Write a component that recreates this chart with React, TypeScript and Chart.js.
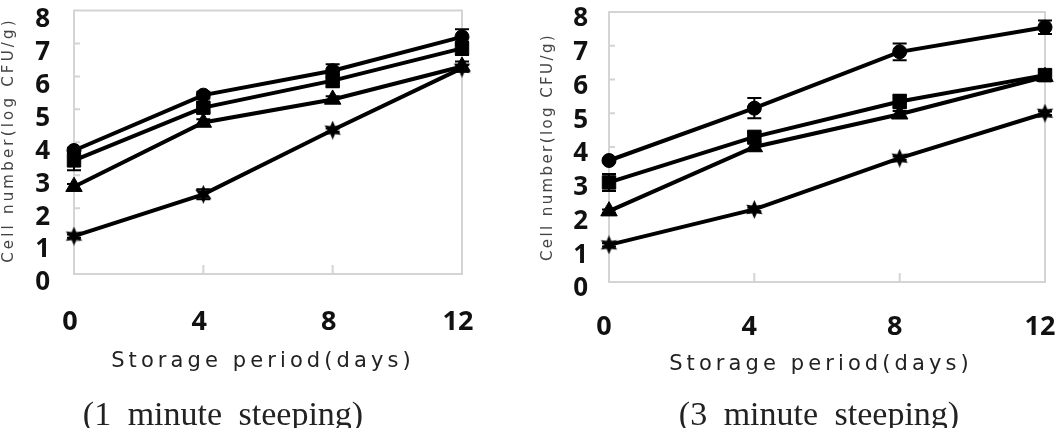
import { useEffect, useRef } from "react";
import { Chart, registerables } from "chart.js";

Chart.register(...registerables);

// Storage days on the x axis
const days = [0, 4, 8, 12];
const yTickValues = [0, 1, 2, 3, 4, 5, 6, 7, 8];

// 1 minute steeping: log CFU/g and standard deviations
const oneMinCircle = [3.75, 5.43, 6.17, 7.2];
const oneMinCircleErr = [0.08, 0.1, 0.2, 0.23];
const oneMinSquare = [3.45, 5.05, 5.87, 6.85];
const oneMinSquareErr = [0.3, 0.15, 0.2, 0.2];
const oneMinTriangle = [2.65, 4.6, 5.3, 6.3];
const oneMinTriangleErr = [0.08, 0.1, 0.1, 0.15];
const oneMinStar = [1.15, 2.42, 4.37, 6.25];
const oneMinStarErr = [0.05, 0.15, 0.05, 0.1];

// 3 minute steeping
const threeMinCircle = [3.6, 5.15, 6.82, 7.55];
const threeMinCircleErr = [0.05, 0.3, 0.25, 0.2];
const threeMinSquare = [2.95, 4.3, 5.35, 6.13];
const threeMinSquareErr = [0.25, 0.15, 0.2, 0.15];
const threeMinTriangle = [2.1, 4.0, 4.97, 6.08];
const threeMinTriangleErr = [0.05, 0.1, 0.1, 0.1];
const threeMinStar = [1.1, 2.15, 3.67, 5.0];
const threeMinStarErr = [0.05, 0.05, 0.05, 0.05];

const xTitle = "Storage period(days)";
const yTitle = "Cell number(log CFU/g)";
const captionOne = "(1 minute steeping)";
const captionThree = "(3 minute steeping)";

const H = 428;

function makeStar(size: number): HTMLCanvasElement {
  const c = document.createElement("canvas");
  c.width = size;
  c.height = size;
  const ctx = c.getContext("2d")!;
  const cx = size / 2;
  const cy = size / 2;
  const R = size / 2;
  const r = R * 0.5;
  ctx.beginPath();
  for (let i = 0; i < 12; i++) {
    const a = -Math.PI / 2 + (i * Math.PI) / 6;
    const rad = i % 2 === 0 ? R : r;
    ctx.lineTo(cx + rad * Math.cos(a), cy + rad * Math.sin(a));
  }
  ctx.closePath();
  ctx.fillStyle = "#000";
  ctx.fill();
  return c;
}

type PanelCfg = {
  offset: number;
  width: number;
  left: number;
  right: number;
  top: number;
  bottom: number;
  xPad: number;
  xLabelOffset: number;
  yPad: number;
  yLabelOffset: number;
  xTitlePos: [number, number];
  yTitlePos: [number, number];
  yTitleSpacing: number;
  captionPos: [number, number];
  caption: string;
  series: { values: number[]; errors: number[]; style: any; radius: number }[];
};

const errorBarPlugin = {
  id: "errorBars",
  afterDatasetsDraw(chart: any) {
    const ctx = chart.ctx;
    const xs = chart.scales.x;
    const ys = chart.scales.y;
    ctx.save();
    ctx.strokeStyle = "#000";
    ctx.lineWidth = 2;
    chart.data.datasets.forEach((ds: any) => {
      ds.data.forEach((p: any, i: number) => {
        const e = ds.errors[i];
        const x = xs.getPixelForValue(p.x);
        const y1 = ys.getPixelForValue(p.y + e);
        const y2 = ys.getPixelForValue(p.y - e);
        ctx.beginPath();
        ctx.moveTo(x, y1);
        ctx.lineTo(x, y2);
        ctx.moveTo(x - 7, y1);
        ctx.lineTo(x + 7, y1);
        ctx.moveTo(x - 7, y2);
        ctx.lineTo(x + 7, y2);
        ctx.stroke();
      });
    });
    ctx.restore();
  },
};

const framePlugin = {
  id: "frame",
  beforeDatasetsDraw(chart: any) {
    const { ctx, chartArea } = chart;
    const xs = chart.scales.x;
    const ys = chart.scales.y;
    ctx.save();
    ctx.strokeStyle = "#d4d4d4";
    ctx.lineWidth = 2;
    ctx.strokeRect(chartArea.left, chartArea.top, chartArea.right - chartArea.left, chartArea.bottom - chartArea.top);
    ctx.beginPath();
    yTickValues.slice(1, -1).forEach((v) => {
      const y = ys.getPixelForValue(v);
      ctx.moveTo(chartArea.left, y);
      ctx.lineTo(chartArea.left + 6, y);
    });
    days.slice(1, -1).forEach((d) => {
      const x = xs.getPixelForValue(d);
      ctx.moveTo(x, chartArea.bottom);
      ctx.lineTo(x, chartArea.bottom - 9);
    });
    ctx.stroke();
    ctx.restore();
  },
};

function makeTextPlugin(cfg: PanelCfg) {
  return {
    id: "panelText",
    afterDraw(chart: any) {
      const ctx = chart.ctx;
      ctx.save();
      ctx.fillStyle = "#222";
      ctx.textAlign = "center";
      ctx.textBaseline = "middle";
      ctx.font = "21px 'DejaVu Sans'";
      (ctx as any).letterSpacing = "4.1px";
      ctx.fillText(xTitle, cfg.xTitlePos[0], cfg.xTitlePos[1]);

      ctx.save();
      ctx.fillStyle = "#444";
      ctx.font = "15px 'DejaVu Sans'";
      (ctx as any).letterSpacing = cfg.yTitleSpacing + "px";
      ctx.translate(cfg.yTitlePos[0], cfg.yTitlePos[1]);
      ctx.rotate(-Math.PI / 2);
      ctx.fillText(yTitle, 0, 0);
      ctx.restore();

      ctx.fillStyle = "#222";
      ctx.font = "34px 'Liberation Serif'";
      (ctx as any).letterSpacing = "0px";
      (ctx as any).wordSpacing = "8px";
      ctx.textBaseline = "alphabetic";
      ctx.fillText(cfg.caption, cfg.captionPos[0], cfg.captionPos[1]);
      ctx.restore();
    },
  };
}

function buildConfig(cfg: PanelCfg): any {
  return {
    type: "line",
    data: {
      datasets: cfg.series.map((s) => ({
        data: days.map((d, i) => ({ x: d, y: s.values[i] })),
        errors: s.errors,
        borderColor: "#000",
        borderWidth: 4,
        pointStyle: s.style,
        pointRadius: s.radius,
        pointBackgroundColor: "#000",
        pointBorderColor: "#000",
        pointBorderWidth: 1,
        tension: 0,
        clip: false,
      })),
    },
    options: {
      responsive: false,
      maintainAspectRatio: false,
      animation: false,
      layout: { padding: { left: 0, top: cfg.top, right: cfg.width - cfg.right, bottom: 0 } },
      scales: {
        x: {
          type: "linear",
          min: 0,
          max: 12,
          afterFit: (s: any) => {
            s.height = H - cfg.bottom;
            s.paddingLeft = 0;
            s.paddingRight = 0;
          },
          afterBuildTicks: (s: any) => {
            s.ticks = days.map((d) => ({ value: d }));
          },
          ticks: {
            padding: cfg.xPad,
            labelOffset: cfg.xLabelOffset,
            color: "#111",
            autoSkip: false,
            font: { family: "'Noto Sans'", weight: "bold", size: 27 },
            maxRotation: 0,
          },
          grid: { display: false, drawTicks: false },
          border: { display: false },
        },
        y: {
          min: 0,
          max: 8,
          afterFit: (s: any) => {
            s.width = cfg.left;
            s.paddingTop = 0;
            s.paddingBottom = 0;
          },
          afterBuildTicks: (s: any) => {
            s.ticks = yTickValues.map((v) => ({ value: v }));
          },
          ticks: {
            padding: cfg.yPad,
            labelOffset: cfg.yLabelOffset,
            color: "#111",
            autoSkip: false,
            font: { family: "'Noto Sans'", weight: "bold", size: 26 },
          },
          grid: { display: false, drawTicks: false },
          border: { display: false },
        },
      },
      plugins: { legend: { display: false }, tooltip: { enabled: false } },
    },
    plugins: [framePlugin, errorBarPlugin, makeTextPlugin(cfg)],
  };
}

function Panel({ cfg }: { cfg: PanelCfg }) {
  const ref = useRef<HTMLCanvasElement>(null);
  useEffect(() => {
    const chart = new Chart(ref.current!, buildConfig(cfg));
    return () => chart.destroy();
  }, []);
  return (
    <canvas
      ref={ref}
      width={cfg.width}
      height={H}
      style={{ position: "absolute", left: cfg.offset, top: 0, width: cfg.width, height: H }}
    />
  );
}

export default function App() {
  const star = makeStar(19);
  const leftCfg: PanelCfg = {
    offset: 0,
    width: 530,
    left: 74,
    right: 462,
    top: 3,
    bottom: 274,
    xPad: 32,
    xLabelOffset: -4,
    yPad: 24,
    yLabelOffset: 9,
    xTitlePos: [263, 362],
    yTitlePos: [9, 140],
    yTitleSpacing: 3.2,
    captionPos: [223, 425],
    caption: captionOne,
    series: [
      { values: oneMinCircle, errors: oneMinCircleErr, style: "circle", radius: 7 },
      { values: oneMinSquare, errors: oneMinSquareErr, style: "rect", radius: 9.5 },
      { values: oneMinTriangle, errors: oneMinTriangleErr, style: "triangle", radius: 9.5 },
      { values: oneMinStar, errors: oneMinStarErr, style: star, radius: 9 },
    ],
  };
  const rightCfg: PanelCfg = {
    offset: 530,
    width: 531,
    left: 79,
    right: 515,
    top: 12,
    bottom: 282,
    xPad: 29,
    xLabelOffset: -5,
    yPad: 21,
    yLabelOffset: 7,
    xTitlePos: [291, 365],
    yTitlePos: [18, 147],
    yTitleSpacing: 2.4,
    captionPos: [289, 425],
    caption: captionThree,
    series: [
      { values: threeMinCircle, errors: threeMinCircleErr, style: "circle", radius: 7 },
      { values: threeMinSquare, errors: threeMinSquareErr, style: "rect", radius: 9.5 },
      { values: threeMinTriangle, errors: threeMinTriangleErr, style: "triangle", radius: 9.5 },
      { values: threeMinStar, errors: threeMinStarErr, style: star, radius: 9 },
    ],
  };
  return (
    <div style={{ position: "fixed", left: 0, top: 0, width: 1061, height: H, background: "#fff", overflow: "hidden" }}>
      <Panel cfg={leftCfg} />
      <Panel cfg={rightCfg} />
    </div>
  );
}
